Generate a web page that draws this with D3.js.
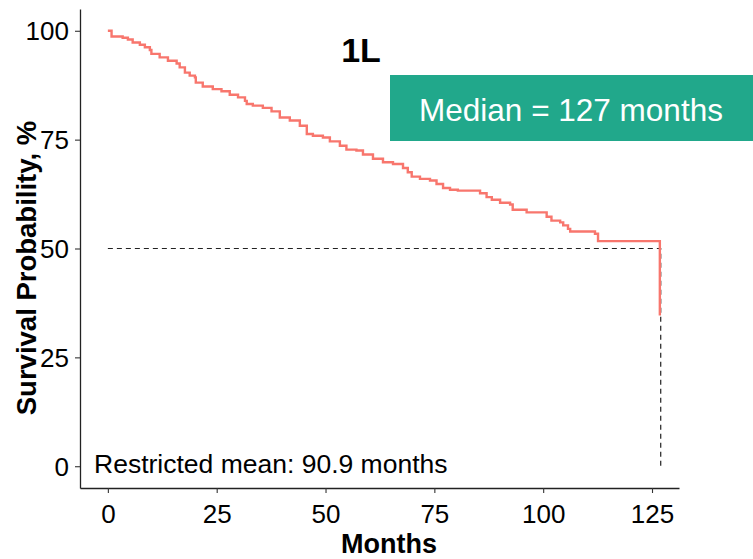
<!DOCTYPE html>
<html lang="en">
<head>
    <meta charset="UTF-8">
    <title>Survival 1L</title>
    <script src="https://cdnjs.cloudflare.com/ajax/libs/d3/7.8.5/d3.min.js"></script>
    <style>
        body { margin: 0; background: #fff; }
        svg text { font-family: "Liberation Sans", Arial, sans-serif; }
    </style>
</head>
<body>
<svg id="chart"></svg>
<script>
// step times (months) and survival (%)
const times = [0, 0.85, 3.4, 4.6, 5.7, 7.35, 8.5, 9.65, 10.0, 11.9, 13.8, 15.8, 16.5, 17.7, 18.8, 20.0, 20.2,
    21.8, 24.1, 26.1, 28.0, 29.9, 31.5, 31.9, 33.3, 35.6, 37.6, 39.5, 41.8, 44.1, 45.7, 47.1, 49.4, 51.0,
    53.3, 54.8, 57.1, 58.6, 60.9, 63.2, 65.5, 67.8, 68.9, 69.8, 71.7, 74.0, 75.5, 77.0, 78.6, 80.4, 85.5,
    87.0, 88.2, 90.1, 92.4, 93.0, 96.2, 100.8, 101.9, 103.9, 104.6, 105.7, 106.2, 111.9, 112.6, 126.8];
const survival = [100, 98.7, 98.4, 98.0, 97.3, 96.8, 96.2, 95.6, 94.7, 93.9, 93.1, 92.5, 91.6, 90.4, 89.7, 89.3, 88.1,
    87.2, 86.6, 86.1, 85.3, 84.7, 83.9, 83.2, 82.8, 82.3, 81.5, 80.1, 79.4, 78.2, 76.3, 75.9, 75.5, 74.6,
    73.6, 72.7, 72.5, 71.6, 70.6, 69.8, 69.4, 68.5, 67.5, 66.5, 66.0, 65.6, 64.8, 63.9, 63.5, 63.3, 62.7,
    61.8, 61.2, 60.5, 60.1, 58.9, 58.3, 57.3, 56.4, 56.0, 55.3, 54.5, 53.9, 53.4, 51.7, 34.6];

const xTicks = [0, 25, 50, 75, 100, 125];
const yTicks = [0, 25, 50, 75, 100];
const medianMonths = 127;
const title = "1L";
const medianLabel = "Median = 127 months";
const rmeanLabel = "Restricted mean: 90.9 months";

const W = 753, H = 559;
const svg = d3.select("#chart").attr("width", W).attr("height", H);

const x = d3.scaleLinear().domain([-6.4, 131.2]).range([80, 679]);
const y = d3.scaleLinear().domain([-5, 105]).range([488, 9]);

// axes
const xAxis = svg.append("g")
    .attr("transform", "translate(0,488)")
    .call(d3.axisBottom(x).tickValues(xTicks).tickSize(5).tickSizeOuter(0).tickPadding(11));
const yAxis = svg.append("g")
    .attr("transform", "translate(80,0)")
    .call(d3.axisLeft(y).tickValues(yTicks).tickSize(5).tickSizeOuter(0).tickPadding(6));

[xAxis, yAxis].forEach(g => {
    g.select(".domain").attr("stroke", "#222").attr("stroke-width", 1.3);
    g.selectAll(".tick line").attr("stroke", "#333").attr("stroke-width", 1.1);
    g.selectAll(".tick text").attr("fill", "#000").style("font-size", "26px");
});
xAxis.selectAll(".tick text").attr("dy", "0.72em");
yAxis.selectAll(".tick text").attr("dy", "0.35em");

// dashed median guide lines
svg.append("path")
    .attr("d", d3.line()([[x(0), y(50)], [x(medianMonths), y(50)], [x(medianMonths), y(0)]]))
    .attr("fill", "none")
    .attr("stroke", "#222")
    .attr("stroke-width", 1.2)
    .attr("stroke-dasharray", "5,4");

// survival curve
const pts = times.map((t, i) => [t, survival[i]]);
svg.append("path")
    .datum(pts)
    .attr("d", d3.line().x(d => x(d[0])).y(d => y(d[1])).curve(d3.curveStepAfter))
    .attr("fill", "none")
    .attr("stroke", "#F8766D")
    .attr("stroke-width", 2.4);

// labels
svg.append("text")
    .attr("x", 361).attr("y", 62)
    .attr("text-anchor", "middle")
    .style("font-size", "34px").style("font-weight", "bold")
    .text(title);

svg.append("rect")
    .attr("x", 390).attr("y", 75)
    .attr("width", 363).attr("height", 66)
    .attr("fill", "#21A88B");
svg.append("text")
    .attr("x", 571).attr("y", 121)
    .attr("text-anchor", "middle")
    .attr("fill", "#fff")
    .style("font-size", "31.5px")
    .text(medianLabel);

svg.append("text")
    .attr("x", 94).attr("y", 473)
    .style("font-size", "26.5px")
    .text(rmeanLabel);

svg.append("text")
    .attr("x", 389).attr("y", 553)
    .attr("text-anchor", "middle")
    .style("font-size", "27px").style("font-weight", "bold")
    .text("Months");

svg.append("text")
    .attr("transform", "translate(36,268) rotate(-90)")
    .attr("text-anchor", "middle")
    .style("font-size", "27.5px").style("font-weight", "bold")
    .text("Survival Probability, %");
</script>
</body>
</html>
